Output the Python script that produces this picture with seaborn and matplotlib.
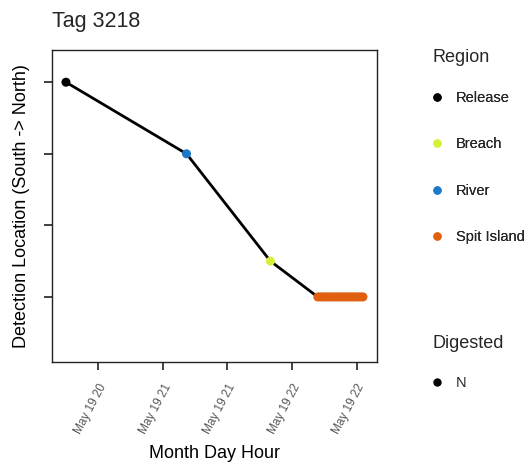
import pandas as pd
import numpy as np
import matplotlib
matplotlib.use("Agg")
import matplotlib.pyplot as plt
import matplotlib.dates as mdates
from matplotlib.lines import Line2D
import seaborn as sns

# ---- data ----
times = ["2019-05-19 20:15", "2019-05-19 21:11", "2019-05-19 21:50",
         "2019-05-19 22:12", "2019-05-19 22:13", "2019-05-19 22:14",
         "2019-05-19 22:15", "2019-05-19 22:16", "2019-05-19 22:17",
         "2019-05-19 22:18", "2019-05-19 22:19", "2019-05-19 22:20",
         "2019-05-19 22:21", "2019-05-19 22:22", "2019-05-19 22:23",
         "2019-05-19 22:24", "2019-05-19 22:25", "2019-05-19 22:26",
         "2019-05-19 22:27", "2019-05-19 22:28", "2019-05-19 22:29",
         "2019-05-19 22:30", "2019-05-19 22:31", "2019-05-19 22:32",
         "2019-05-19 22:33"]
regions = ["Release", "River", "Breach"] + ["Spit Island"] * 22
locations = [4, 3, 1.5] + [1] * 22
digested = ["N"] * 25

region_order = ["Release", "Breach", "River", "Spit Island"]
region_colors = ["#000000", "#d8ef3a", "#1e78c8", "#e06010"]
xtick_times = ["2019-05-19 20:30", "2019-05-19 21:00", "2019-05-19 21:30",
               "2019-05-19 22:00", "2019-05-19 22:30"]
y_ticks = [1, 2, 3, 4]

df = pd.DataFrame({"time": pd.to_datetime(times), "region": regions,
                   "loc": locations, "digested": digested})

sns.set_theme(style="white")
plt.rcParams["font.family"] = ["Liberation Sans", "DejaVu Sans"]

fig = plt.figure(figsize=(5.32, 4.69), dpi=100)
ax = fig.add_axes([0.0977, 0.228, 0.6109, 0.6654])

sns.lineplot(data=df, x="time", y="loc", sort=False, estimator=None,
             color="black", linewidth=2.0, ax=ax, zorder=2)
palette = dict(zip(region_order, region_colors))
sns.scatterplot(data=df, x="time", y="loc", hue="region", palette=palette,
                s=42, linewidth=0, legend=False, ax=ax, zorder=3)

ax.set_xlim(pd.Timestamp("2019-05-19 20:08:30"), pd.Timestamp("2019-05-19 22:39:30"))
ax.set_ylim(0.09, 4.45)
ax.set_xticks(pd.to_datetime(xtick_times))
ax.xaxis.set_major_formatter(mdates.DateFormatter("%b %d %H"))
ax.set_yticks(y_ticks)
ax.set_yticklabels([])
ax.tick_params(axis="both", which="major", direction="out", length=6, width=1.3,
               color="#333333", bottom=True, left=True)
ax.tick_params(axis="x", labelsize=8.5, labelcolor="#555555", pad=8)
plt.setp(ax.get_xticklabels(), rotation=62, ha="right", rotation_mode="anchor")
for s in ax.spines.values():
    s.set_color("#222222")
    s.set_linewidth(1.0)
ax.grid(False)

ax.set_xlabel("Month Day Hour", fontsize=13, color="black", labelpad=7)
ax.set_ylabel("Detection Location (South -> North)", fontsize=13, color="black", labelpad=6)
fig.text(0.098, 0.955, "Tag 3218", fontsize=15.5, ha="left", va="center")

# legends
W, H = 532.0, 469.0
fig.text(433 / W, 1 - 57 / H, "Region", fontsize=13, ha="left", va="center")
handles = [Line2D([], [], marker="o", linestyle="", color=c, markersize=5)
           for c in region_colors]
leg1 = fig.legend(handles, region_order, loc="upper left",
                  bbox_to_anchor=(0.808, 1 - 91 / H), frameon=False, fontsize=10.5,
                  labelspacing=2.22, handletextpad=0.8,
                  handlelength=1.0, borderaxespad=0, borderpad=0)
fig.add_artist(leg1)
fig.text(433 / W, 1 - 343 / H, "Digested", fontsize=13, ha="left", va="center")
h2 = [Line2D([], [], marker="o", linestyle="", color="black", markersize=5)]
leg2 = fig.legend(h2, ["N"], loc="upper left",
                  bbox_to_anchor=(0.808, 1 - 376 / H), frameon=False, fontsize=10.5,
                  handletextpad=0.8, handlelength=1.0, borderaxespad=0, borderpad=0)

fig.savefig("out.png", dpi=100, facecolor="white")
